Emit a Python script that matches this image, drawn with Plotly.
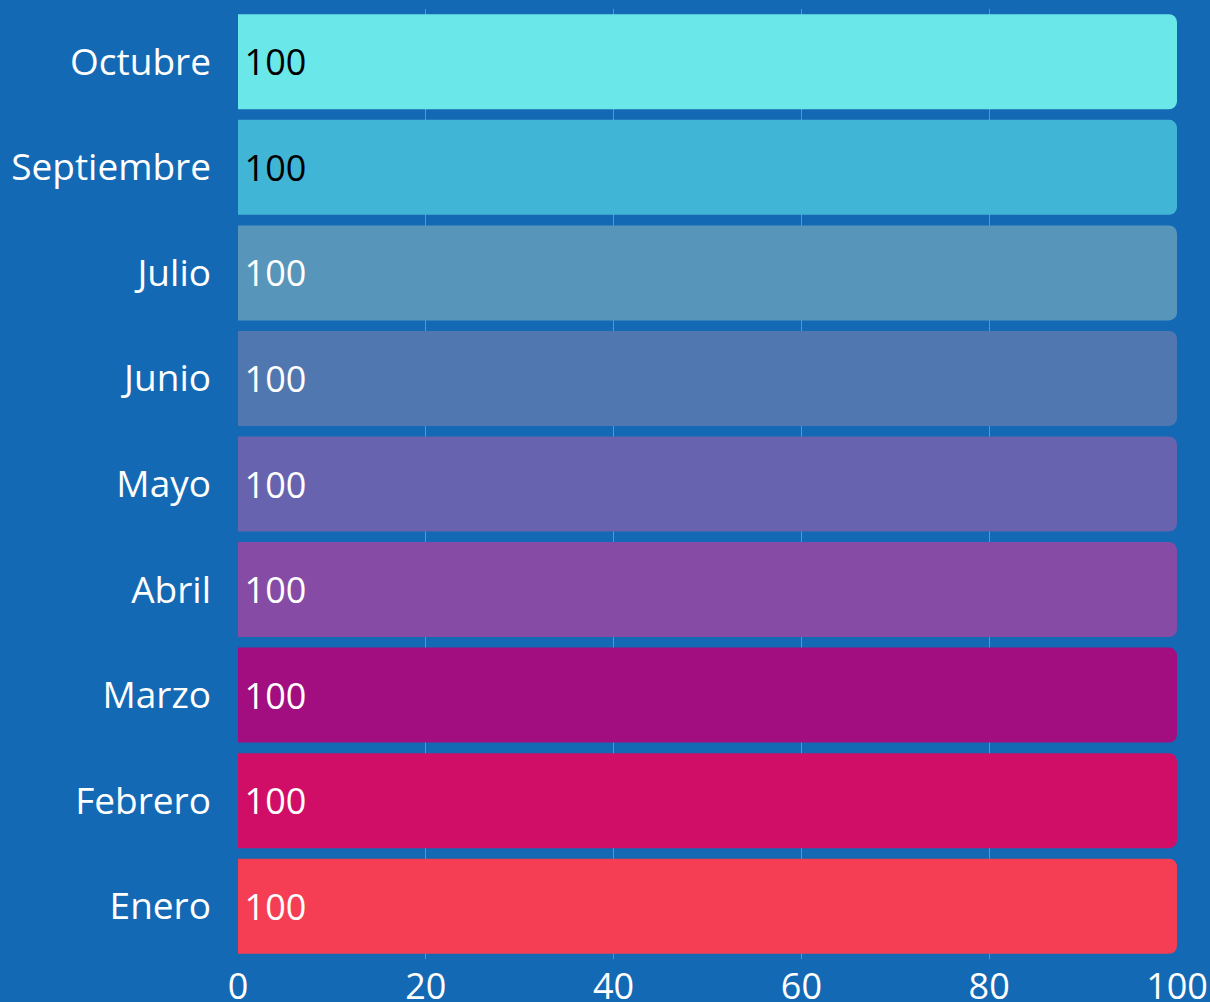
import plotly.graph_objects as go

months = ["Enero", "Febrero", "Marzo", "Abril", "Mayo", "Junio", "Julio", "Septiembre", "Octubre"]
values = [100, 100, 100, 100, 100, 100, 100, 100, 100]
colors = ["#f53e53", "#d10e67", "#a20e80", "#854ba5", "#6763ae", "#5177b0", "#5895bb", "#41b5d5", "#6ae7e9"]
text_colors = ["white", "white", "white", "white", "white", "white", "white", "black", "black"]
x_ticks = [0, 20, 40, 60, 80, 100]

fig = go.Figure(go.Bar(
    x=values, y=months, orientation="h",
    marker=dict(color=colors, line=dict(width=0)),
    text=[str(v) for v in values],
    texttemplate="\u200a%{text}",
    textposition="inside", insidetextanchor="start",
    textfont=dict(size=36, color=text_colors, family="Open Sans"),
    hoverinfo="none",
))
fig.update_layout(
    width=1210, height=1002,
    margin=dict(l=238, r=33, t=9, b=43),
    paper_bgcolor="#1469b5", plot_bgcolor="#1469b5",
    font=dict(family="Open Sans", size=36, color="white"),
    bargap=0.1, barcornerradius=8,
    showlegend=False,
    xaxis=dict(range=[0, 100], tickvals=x_ticks, showgrid=True,
               gridcolor="rgba(255,255,255,0.3)", gridwidth=1,
               zeroline=False, tickfont=dict(size=36), ticks="",
               ticklabelstandoff=3, automargin=False, fixedrange=True),
    yaxis=dict(categoryorder="array", categoryarray=months, showgrid=False,
               tickfont=dict(size=37), ticks="", ticklabelstandoff=26,
               automargin=False),
)
fig.write_html(
    "out.html",
    config={"displayModeBar": False},
    post_script="document.body.style.margin='0';document.body.style.overflow='hidden';",
)
